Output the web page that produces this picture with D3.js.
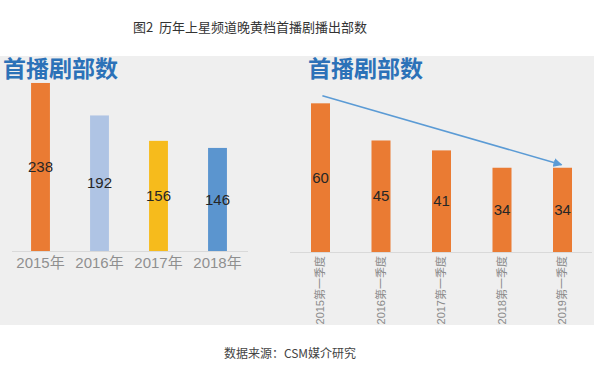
<!DOCTYPE html>
<html><head><meta charset="utf-8">
<script src="https://cdn.jsdelivr.net/npm/d3@7"></script>
<style>
html,body{margin:0;padding:0;background:#fff;}
svg{display:block;font-family:"Liberation Sans","Noto Sans CJK SC",sans-serif;}
</style></head>
<body><svg id="c" width="594" height="382"></svg>
<script>
const chartTitle = "图2  历年上星频道晚黄档首播剧播出部数";
const panelTitle = "首播剧部数";
const sourceText = "数据来源：CSM媒介研究";

const yearCats = ["2015年","2016年","2017年","2018年"];
const yearValues = [238,192,156,146];
const yearColors = ["#ea7b33","#afc4e4","#f6bb1c","#5b95cf"];

const quarterCats = ["2015第一季度","2016第一季度","2017第一季度","2018第一季度","2019第一季度"];
const quarterValues = [60,45,41,34,34];
const quarterColor = "#ea7b33";

const svg = d3.select("#c");

// panel background
svg.append("rect").attr("x",0).attr("y",56).attr("width",594).attr("height",269).attr("fill","#efefef");

// main title
svg.append("text").attr("x",250).attr("y",32).attr("text-anchor","middle")
  .attr("font-size",13).attr("fill","#333").style("font-family","'Noto Sans CJK SC',sans-serif")
  .style("white-space","pre")
  .text(chartTitle);

// source
svg.append("text").attr("x",290).attr("y",358).attr("text-anchor","middle")
  .attr("font-size",12).attr("fill","#444").style("font-family","'Noto Sans CJK SC',sans-serif")
  .text(sourceText);

// panel titles
[3,308].forEach(x=>{
  svg.append("text").attr("x",x).attr("y",77).attr("font-size",23).attr("font-weight","bold")
    .attr("fill","#2c72b8").style("font-family","'Noto Sans CJK SC',sans-serif").text(panelTitle);
});

// ---- left chart ----
const xL = d3.scaleBand().domain(yearCats).range([11,247]).paddingInner(0.68).paddingOuter(0.34);
const yL = d3.scaleLinear().domain([0,250]).range([251,251-250*0.706]);

svg.append("line").attr("x1",12).attr("x2",248).attr("y1",yL(0)+0.5).attr("y2",yL(0)+0.5)
  .attr("stroke","#d9d9d9").attr("stroke-width",1);

svg.append("g").selectAll("rect").data(yearCats).join("rect")
  .attr("x",d=>xL(d)).attr("width",xL.bandwidth())
  .attr("y",(d,i)=>yL(yearValues[i])).attr("height",(d,i)=>yL(0)-yL(yearValues[i]))
  .attr("fill",(d,i)=>yearColors[i]);

svg.append("g").selectAll("text").data(yearCats).join("text")
  .attr("x",d=>xL(d)+xL.bandwidth()/2)
  .attr("y",(d,i)=>(yL(yearValues[i])+yL(0))/2)
  .attr("dy","0.35em").attr("text-anchor","middle").attr("font-size",15).attr("fill","#262626")
  .text((d,i)=>yearValues[i]);

const axL = d3.axisBottom(xL).tickSize(0).tickPadding(6);
const gL = svg.append("g").attr("transform",`translate(0,${yL(0)})`).call(axL);
gL.select(".domain").remove();
gL.selectAll("text").attr("font-size",15).attr("fill","#8f8f8f")
  .style("font-family","'Liberation Sans','Noto Sans CJK SC',sans-serif");

// ---- right chart ----
const xR = d3.scaleBand().domain(quarterCats).range([290.25,592.75]).paddingInner(0.686).paddingOuter(0.343);
const yR = d3.scaleLinear().domain([0,70]).range([252,252-70*2.478]);

svg.append("line").attr("x1",290).attr("x2",592).attr("y1",yR(0)+0.5).attr("y2",yR(0)+0.5)
  .attr("stroke","#d9d9d9").attr("stroke-width",1);

svg.append("g").selectAll("rect").data(quarterCats).join("rect")
  .attr("x",d=>xR(d)).attr("width",xR.bandwidth())
  .attr("y",(d,i)=>yR(quarterValues[i])).attr("height",(d,i)=>yR(0)-yR(quarterValues[i]))
  .attr("fill",quarterColor);

svg.append("g").selectAll("text").data(quarterCats).join("text")
  .attr("x",d=>xR(d)+xR.bandwidth()/2)
  .attr("y",(d,i)=>(yR(quarterValues[i])+yR(0))/2)
  .attr("dy","0.35em").attr("text-anchor","middle").attr("font-size",15).attr("fill","#262626")
  .text((d,i)=>quarterValues[i]);

const axR = d3.axisBottom(xR).tickSize(0).tickPadding(0);
const gR = svg.append("g").attr("transform",`translate(0,${yR(0)})`).call(axR);
gR.select(".domain").remove();
gR.selectAll("text").attr("font-size",11).attr("fill","#8a8a8a")
  .attr("transform","rotate(-90)").attr("text-anchor","end")
  .attr("x",-4).attr("y",0).attr("dy","0.35em")
  .style("font-family","'Liberation Sans','Noto Sans CJK SC',sans-serif");

// trend arrow
const defs = svg.append("defs");
defs.append("marker").attr("id","ah").attr("viewBox","0 0 10 10").attr("refX",9).attr("refY",5)
  .attr("markerWidth",6).attr("markerHeight",6).attr("orient","auto")
  .append("path").attr("d","M0,0 L10,5 L0,10 z").attr("fill","#5b9bd5");
const first = quarterCats[0], last = quarterCats[quarterCats.length-1];
svg.append("line")
  .attr("x1",xR(first)+xR.bandwidth()*0.6).attr("y1",yR(quarterValues[0])-7.5)
  .attr("x2",xR(last)+xR.bandwidth()*0.45).attr("y2",yR(quarterValues[quarterValues.length-1])-3)
  .attr("stroke","#5b9bd5").attr("stroke-width",1.5).attr("marker-end","url(#ah)");
</script></body></html>
